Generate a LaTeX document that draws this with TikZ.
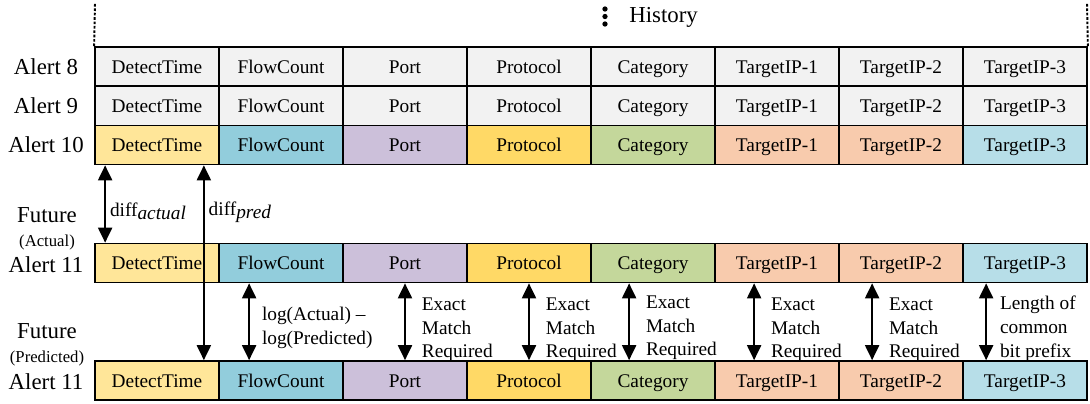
\documentclass[tikz,border=0pt]{standalone}
\usepackage{fontspec}
\setmainfont{Liberation Serif}
\usetikzlibrary{arrows.meta,positioning}
\definecolor{histgray}{HTML}{F2F2F2}
\definecolor{dtcol}{HTML}{FFE699}
\definecolor{fccol}{HTML}{92CDDC}
\definecolor{portcol}{HTML}{CCC0DA}
\definecolor{protcol}{HTML}{FFD966}
\definecolor{catcol}{HTML}{C4D79B}
\definecolor{ipcol}{HTML}{F8CBAD}
\definecolor{ipthreecol}{HTML}{B7DEE8}
\tikzstyle{cell} = [draw=black, line width=1pt, minimum width=2.48cm, minimum height=0.78cm, inner sep=0pt, text height=2ex, text depth=0.3ex, font=\fontsize{11}{13}\selectfont]
\tikzstyle{arrow} = [line width=1pt, {Triangle[width=8pt,length=8.5pt]}-{Triangle[width=8pt,length=8.5pt]}]
\tikzstyle{rowlabel} = [inner sep=0pt, font=\fontsize{13}{15}\selectfont]
\tikzstyle{smalllabel} = [inner sep=0pt, font=\fontsize{9.5}{11}\selectfont]
\tikzstyle{note} = [inner sep=0pt, anchor=west, align=left, font=\fontsize{11}{13.6}\selectfont]

\begin{document}
\begin{tikzpicture}[x=0.02cm, y=-0.02cm]
\useasboundingbox (0,0) rectangle (1090,403);
% rows of the table
\foreach \txt/\col [count=\i] in {DetectTime/dtcol, FlowCount/fccol, Port/portcol, Protocol/protcol, Category/catcol, TargetIP-1/ipcol, TargetIP-2/ipcol, TargetIP-3/ipthreecol} {
  \node[cell, fill=histgray] (h8-\i) at (124*\i+33, 66.5) {\txt};
  \node[cell, fill=histgray] (h9-\i) at (124*\i+33, 106) {\txt};
  \node[cell, fill=\col] (h10-\i) at (124*\i+33, 145) {\txt};
  \node[cell, fill=\col] (act-\i) at (124*\i+33, 263) {\txt};
  \node[cell, fill=\col] (pred-\i) at (124*\i+33, 380.5) {\txt};
}
% row labels
\node[rowlabel] (lab8) at (46,67) {Alert 8};
\node[rowlabel] (lab9) at (46,106) {Alert 9};
\node[rowlabel] (lab10) at (46,145) {Alert 10};
\node[rowlabel] (futact) at (47,215) {Future};
\node[smalllabel] (actual) at (47,242) {(Actual)};
\node[rowlabel] (lab11a) at (46,265) {Alert 11};
\node[rowlabel] (futpred) at (47,331) {Future};
\node[smalllabel] (predicted) at (47,358) {(Predicted)};
\node[rowlabel] (lab11p) at (46,382) {Alert 11};
% history marker
\coordinate (histl) at (95,3);
\coordinate (histr) at (1087,3);
\draw[line width=1.1pt, dash pattern=on 1.5pt off 1pt] (h8-1.north west) -- (histl);
\draw[line width=1.1pt, dash pattern=on 1.5pt off 1pt] (h8-8.north east) -- (histr);
\fill (605,9) circle[radius=1.5pt] (605,16.5) circle[radius=1.5pt] (605,24) circle[radius=1.5pt];
\node[rowlabel, anchor=west] (hist) at (629,17) {History};
% differences
\draw[arrow] ([xshift=0.22cm]h10-1.south west) -- node[note, pos=0.6, xshift=0.08cm] (dact) {diff\raisebox{-0.35ex}{\itshape actual}} ([xshift=0.22cm]act-1.north west);
\draw[arrow] ([xshift=-0.32cm]h10-1.south east) -- node[note, pos=0.24, xshift=0.08cm] (dpred) {diff\raisebox{-0.35ex}{\itshape pred}} ([xshift=-0.32cm]pred-1.north east);
\draw[arrow] ([xshift=0.62cm]act-2.south west) -- node[note, xshift=0.24cm, yshift=-0.12cm] (nlog) {log(Actual) --\\log(Predicted)} ([xshift=0.62cm]pred-2.north west);
\draw[arrow] (act-3.south) -- node[note, xshift=0.32cm, yshift=-0.16cm] (nport) {Exact\\Match\\Required} (pred-3.north);
\draw[arrow] (act-4.south) -- node[note, xshift=0.32cm, yshift=-0.16cm] (nprot) {Exact\\Match\\Required} (pred-4.north);
\draw[arrow] ([xshift=0.78cm]act-5.south west) -- node[note, xshift=0.32cm, yshift=-0.12cm] (ncat) {Exact\\Match\\Required} ([xshift=0.78cm]pred-5.north west);
\draw[arrow] ([xshift=0.8cm]act-6.south west) -- node[note, xshift=0.32cm, yshift=-0.16cm] (nipa) {Exact\\Match\\Required} ([xshift=0.8cm]pred-6.north west);
\draw[arrow] ([xshift=0.68cm]act-7.south west) -- node[note, xshift=0.32cm, yshift=-0.16cm] (nipb) {Exact\\Match\\Required} ([xshift=0.68cm]pred-7.north west);
\draw[arrow] ([xshift=0.48cm]act-8.south west) -- node[note, xshift=0.26cm, yshift=-0.14cm] (nipc) {Length of\\common\\bit prefix} ([xshift=0.48cm]pred-8.north west);
\end{tikzpicture}
\end{document}
